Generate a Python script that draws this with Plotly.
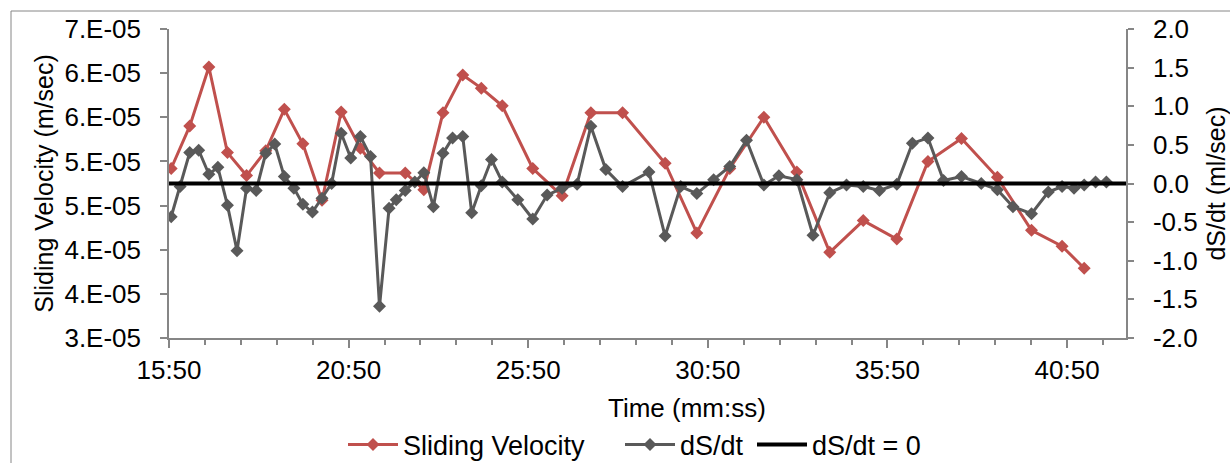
import plotly.graph_objects as go

# Rate of change of storage, dS/dt (ml/sec), sampled through the run (mm:ss)
dsdt_times = [
    "15:54", "16:09", "16:25", "16:40", "16:57", "17:12", "17:28", "17:44",
    "18:00", "18:16", "18:32", "18:47", "19:03", "19:19", "19:34", "19:50",
    "20:06", "20:22", "20:38", "20:54", "21:10", "21:27", "21:42", "21:58",
    "22:10", "22:25", "22:41", "22:56", "23:12", "23:28", "23:44", "24:01",
    "24:16", "24:32", "24:49", "25:07", "25:33", "25:58", "26:22", "26:47",
    "27:12", "27:35", "28:00", "28:28", "29:12", "29:39", "30:05", "30:32",
    "31:00", "31:27", "31:55", "32:24", "32:49", "33:19", "33:46", "34:14",
    "34:42", "35:10", "35:37", "36:06", "36:32", "36:58", "37:24", "37:54",
    "38:27", "38:54", "39:20", "39:51", "40:19", "40:42", "41:02", "41:19",
    "41:38", "41:56",
]
dsdt_values = [
    -0.43, -0.04, 0.40, 0.43, 0.12, 0.21, -0.28, -0.87,
    -0.06, -0.09, 0.39, 0.51, 0.09, -0.06, -0.27, -0.37,
    -0.19, 0.00, 0.65, 0.33, 0.61, 0.35, -1.59, -0.32,
    -0.21, -0.09, 0.02, 0.14, -0.30, 0.39, 0.59, 0.61,
    -0.38, -0.03, 0.31, 0.02, -0.21, -0.46, -0.15, -0.06,
    -0.01, 0.74, 0.18, -0.04, 0.15, -0.68, -0.04, -0.13,
    0.05, 0.22, 0.56, -0.02, 0.10, 0.05, -0.67, -0.12,
    -0.02, -0.04, -0.09, -0.01, 0.52, 0.59, 0.04, 0.09,
    0.00, -0.08, -0.30, -0.39, -0.11, -0.04, -0.06, -0.02,
    0.02, 0.02,
]

# Sliding velocity (m/sec)
velocity_times = [
    "15:54", "16:25", "16:57", "17:28", "18:00", "18:32", "19:03", "19:34",
    "20:06", "20:38", "21:10", "21:42", "22:25", "22:56", "23:28", "24:01",
    "24:32", "25:07", "25:58", "26:47", "27:35", "28:28", "29:39", "30:32",
    "31:27", "32:24", "33:19", "34:14", "35:10", "36:06", "36:58", "37:54",
    "38:54", "39:51", "40:42", "41:19",
]
velocity_values = [
    5.42e-5, 5.90e-5, 6.57e-5, 5.60e-5, 5.34e-5, 5.62e-5, 6.09e-5, 5.70e-5,
    5.06e-5, 6.06e-5, 5.65e-5, 5.37e-5, 5.37e-5, 5.18e-5, 6.05e-5, 6.48e-5,
    6.33e-5, 6.13e-5, 5.42e-5, 5.11e-5, 6.05e-5, 6.05e-5, 5.48e-5, 4.69e-5,
    5.42e-5, 6.00e-5, 5.38e-5, 4.47e-5, 4.83e-5, 4.62e-5, 5.50e-5, 5.76e-5,
    5.32e-5, 4.72e-5, 4.54e-5, 4.29e-5,
]

# Reference line dS/dt = 0 across the whole time axis
zero_line_times = ["15:50.4", "42:28.8"]
zero_line_values = [0.0, 0.0]

# Axis ticks
time_ticks = ["15:50.4", "20:50.4", "25:50.4", "30:50.4", "35:50.4", "40:50.4"]
time_tick_labels = ["15:50", "20:50", "25:50", "30:50", "35:50", "40:50"]
velocity_ticks = [3.5e-5, 4.0e-5, 4.5e-5, 5.0e-5, 5.5e-5, 6.0e-5, 6.5e-5, 7.0e-5]
velocity_tick_labels = ["3.E-05", "4.E-05", "4.E-05", "5.E-05",
                        "5.E-05", "6.E-05", "6.E-05", "7.E-05"]
dsdt_ticks = [-2.0, -1.5, -1.0, -0.5, 0.0, 0.5, 1.0, 1.5, 2.0]
dsdt_tick_labels = ["-2.0", "-1.5", "-1.0", "-0.5", "0.0", "0.5", "1.0", "1.5", "2.0"]


def to_minutes(stamp):
    mm, ss = stamp.split(":")
    return int(mm) + float(ss) / 60.0


RED = "#C0504D"
GREY = "#595959"
AXIS = "#868686"
FAMILY = "Liberation Sans, Arial, sans-serif"
FONT = dict(family=FAMILY, size=26, color="#000000")
TITLE_FONT = dict(family=FAMILY, size=25, color="#000000")
LEGEND_FONT = dict(family=FAMILY, size=27, color="#000000")

# plot-area geometry in pixels
L, R, T, B = 169, 104, 29, 125
W, H = 1230 - L - R, 463 - T - B


def px_x(p):
    return (p - L) / W


def px_y(p):
    return (463 - B - p) / H


fig = go.Figure()

fig.add_trace(go.Scatter(
    x=[to_minutes(t) for t in velocity_times], y=velocity_values,
    name="Sliding Velocity", mode="lines+markers",
    line=dict(color=RED, width=3),
    marker=dict(symbol="diamond", size=10, color=RED),
    yaxis="y", legend="legend",
))
fig.add_trace(go.Scatter(
    x=[to_minutes(t) for t in dsdt_times], y=dsdt_values,
    name="dS/dt", mode="lines+markers",
    line=dict(color=GREY, width=3),
    marker=dict(symbol="diamond", size=10, color=GREY),
    yaxis="y2", legend="legend2",
))
fig.add_trace(go.Scatter(
    x=[to_minutes(t) for t in zero_line_times], y=zero_line_values,
    name="dS/dt = 0", mode="lines",
    line=dict(color="#000000", width=4),
    yaxis="y2", legend="legend3",
))

x_min = to_minutes(zero_line_times[0])
x_max = to_minutes(zero_line_times[1])

legend_common = dict(font=LEGEND_FONT, itemwidth=50, bgcolor="rgba(0,0,0,0)",
                     borderwidth=0, yanchor="middle", xanchor="left",
                     orientation="h")

fig.update_layout(
    width=1230, height=463,
    margin=dict(l=L, r=R, t=T, b=B, autoexpand=False),
    paper_bgcolor="white", plot_bgcolor="white",
    font=FONT,
    showlegend=True,
    legend=dict(x=px_x(343), y=px_y(445), **legend_common),
    legend2=dict(x=px_x(620), y=px_y(445), **legend_common),
    legend3=dict(x=px_x(752), y=px_y(445), **legend_common),
    xaxis=dict(
        range=[x_min, x_max], showgrid=False, zeroline=False, automargin=False,
        showline=True, linecolor=AXIS, linewidth=1.5,
        tickmode="array", tickvals=[to_minutes(t) for t in time_ticks],
        ticktext=time_tick_labels,
        ticks="outside", ticklen=8, tickcolor=AXIS, tickwidth=1.5,
        ticklabelstandoff=0,
        minor=dict(dtick=1, tick0=x_min, ticks="outside", ticklen=5,
                   tickcolor=AXIS, tickwidth=1.5, showgrid=False),
    ),
    yaxis=dict(
        range=[3.5e-5, 7.0e-5], showgrid=False, zeroline=False, automargin=False,
        showline=True, linecolor=AXIS, linewidth=1.5,
        tickmode="array", tickvals=velocity_ticks, ticktext=velocity_tick_labels,
        ticks="outside", ticklen=7, tickcolor=AXIS, tickwidth=1.5,
        ticklabelstandoff=14,
        title=dict(text="Sliding Velocity (m/sec)", standoff=4, font=TITLE_FONT),
    ),
    yaxis2=dict(
        range=[-2.0, 2.0], overlaying="y", side="right", automargin=False,
        showgrid=False, zeroline=False,
        showline=True, linecolor=AXIS, linewidth=1.5,
        tickmode="array", tickvals=dsdt_ticks, ticktext=dsdt_tick_labels,
        ticks="outside", ticklen=6, tickcolor=AXIS, tickwidth=1.5,
        ticklabelstandoff=14,
        title=dict(text="dS/dt (ml/sec)", standoff=14, font=TITLE_FONT),
    ),
    annotations=[dict(
        text="Time (mm:ss)", xref="paper", yref="paper",
        x=px_x(687), y=px_y(408), xanchor="center", yanchor="middle",
        showarrow=False, font=FONT,
    )],
    shapes=[dict(
        type="rect", xref="paper", yref="paper",
        x0=px_x(11), x1=1.3, y0=-0.6, y1=px_y(11),
        line=dict(color=AXIS, width=1), fillcolor="rgba(0,0,0,0)", layer="below",
    )],
)

fig.write_html("out.html")
